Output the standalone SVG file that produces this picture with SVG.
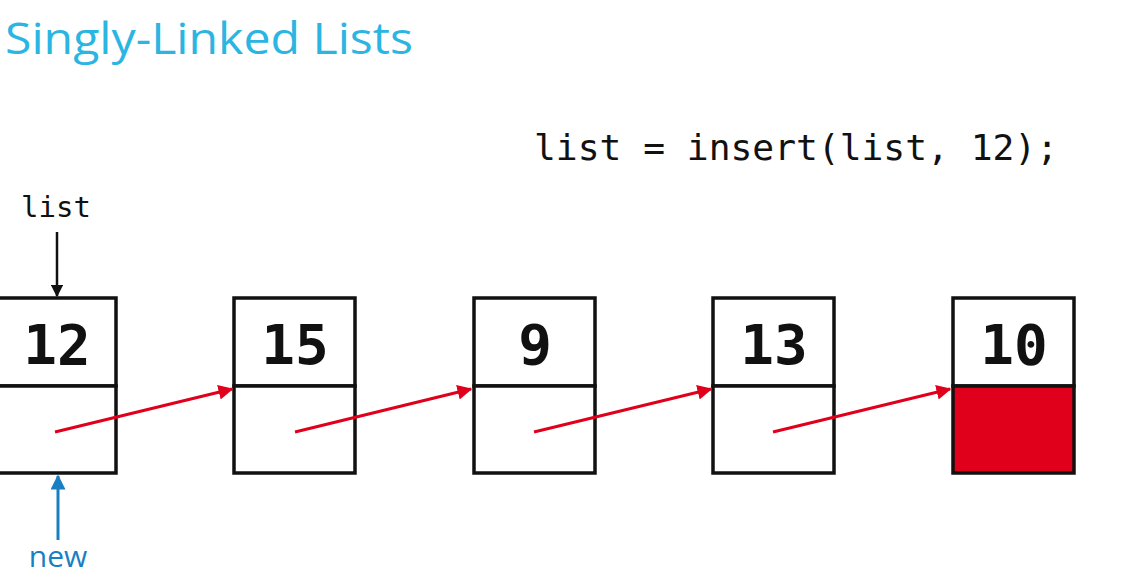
<svg xmlns="http://www.w3.org/2000/svg" width="1131" height="587" viewBox="0 0 1131 587">
  <defs>
    <style>
      .cell { fill: #ffffff; stroke: #111111; stroke-width: 3.5; }
      .val { font-family: "DejaVu Sans Mono", "Liberation Mono", monospace; font-weight: bold; font-size: 56px; fill: #111111; text-anchor: middle; }
      .link { stroke: #e0001b; stroke-width: 3; fill: none; marker-end: url(#redHead); }
      .mono { font-family: "DejaVu Sans Mono", "Liberation Mono", monospace; fill: #111111; }
    </style>
    <marker id="redHead" viewBox="0 0 10 10" refX="9" refY="5" markerWidth="5" markerHeight="5" orient="auto" markerUnits="strokeWidth">
      <path d="M0,0 L10,5 L0,10 z" fill="#e0001b"/>
    </marker>
    <marker id="blackHead" viewBox="0 0 10 10" refX="9" refY="5" markerWidth="5" markerHeight="5" orient="auto" markerUnits="strokeWidth">
      <path d="M0,0 L10,5 L0,10 z" fill="#111111"/>
    </marker>
    <marker id="blueHead" viewBox="0 0 10 10" refX="9" refY="5" markerWidth="5" markerHeight="5" orient="auto" markerUnits="strokeWidth">
      <path d="M0,0 L10,5 L0,10 z" fill="#1a7fc1"/>
    </marker>
  </defs>

  <rect width="1131" height="587" fill="#ffffff"/>

  <!-- heading -->
  <text x="5" y="54" font-family="Open Sans, Noto Sans, sans-serif" font-size="44" fill="#2bb5e2" textLength="408" lengthAdjust="spacingAndGlyphs">Singly-Linked Lists</text>

  <!-- code line -->
  <text class="mono" x="534" y="160" font-size="36" textLength="524" lengthAdjust="spacingAndGlyphs">list = insert(list, 12);</text>

  <!-- nodes -->
  <g id="node-12">
    <rect class="cell" x="-5" y="298" width="121" height="88"/>
    <rect class="cell" x="-5" y="386" width="121" height="87"/>
    <text class="val" x="57" y="364">12</text>
  </g>
  <g id="node-15">
    <rect class="cell" x="234" y="298" width="121" height="88"/>
    <rect class="cell" x="234" y="386" width="121" height="87"/>
    <text class="val" x="295" y="364">15</text>
  </g>
  <g id="node-9">
    <rect class="cell" x="474" y="298" width="121" height="88"/>
    <rect class="cell" x="474" y="386" width="121" height="87"/>
    <text class="val" x="535" y="364">9</text>
  </g>
  <g id="node-13">
    <rect class="cell" x="713" y="298" width="121" height="88"/>
    <rect class="cell" x="713" y="386" width="121" height="87"/>
    <text class="val" x="774" y="364">13</text>
  </g>
  <g id="node-10">
    <rect class="cell" x="953" y="298" width="121" height="88"/>
    <rect class="cell" x="953" y="386" width="121" height="87" style="fill:#e0001b"/>
    <text class="val" x="1014" y="364">10</text>
  </g>

  <!-- pointer labels -->
  <g id="label-list">
    <text class="mono" x="56" y="217" font-size="29" text-anchor="middle">list</text>
  </g>
  <g id="label-new">
    <text x="58" y="567" font-family="Open Sans, Noto Sans, sans-serif" font-size="30" fill="#1a7fc1" text-anchor="middle">new</text>
  </g>

  <!-- connectors -->
  <g id="connectors">
    <line class="link" x1="55" y1="432" x2="232" y2="389"/>
    <line class="link" x1="295" y1="432" x2="471" y2="389"/>
    <line class="link" x1="534" y1="432" x2="711" y2="389"/>
    <line class="link" x1="773" y1="432" x2="950" y2="389"/>
    <line x1="57" y1="232" x2="57" y2="296" stroke="#111111" stroke-width="2.5" marker-end="url(#blackHead)"/>
    <line x1="58" y1="540" x2="58" y2="476" stroke="#1a7fc1" stroke-width="3" marker-end="url(#blueHead)"/>
  </g>
</svg>
